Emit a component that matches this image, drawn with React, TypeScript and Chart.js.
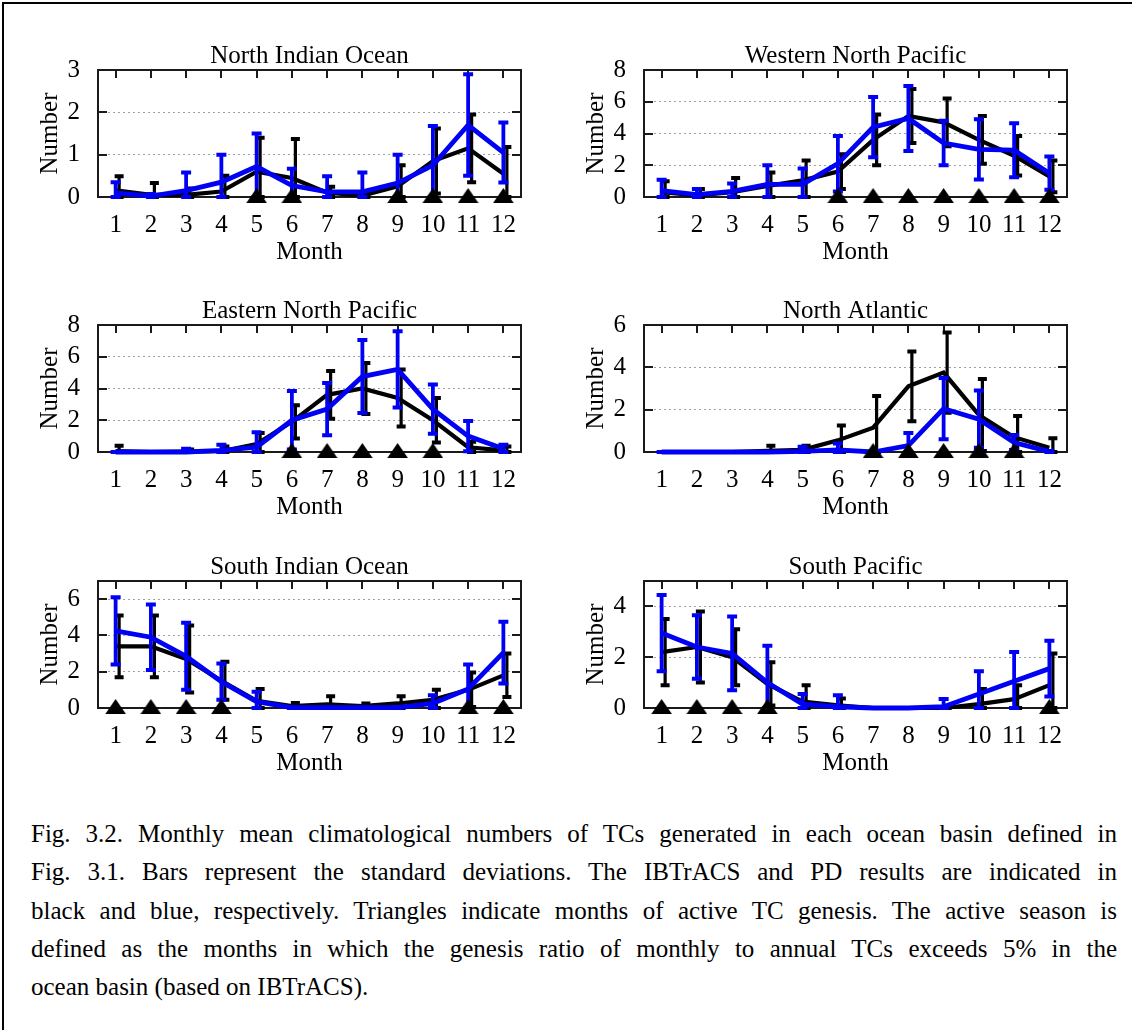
import React, { useEffect, useRef } from 'react';
import { Chart, registerables } from 'chart.js';

Chart.register(...registerables);

const SERIF = '"Liberation Serif", "Times New Roman", serif';
const BLUE = '#0000f5';
const BLACK = '#000000';

// Months (x categories)
const months = [1, 2, 3, 4, 5, 6, 7, 8, 9, 10, 11, 12];

// North Indian Ocean
const nioIbtracs = [0.16, 0.05, 0.05, 0.13, 0.6, 0.45, 0.1, 0.03, 0.25, 0.85, 1.15, 0.55];
const nioIbtracsSd = [0.33, 0.28, 0.15, 0.37, 0.8, 0.92, 0.14, 0.07, 0.5, 0.77, 0.8, 0.63];
const nioPd = [0.1, 0.02, 0.15, 0.35, 0.72, 0.27, 0.12, 0.12, 0.33, 0.75, 1.7, 1.05];
const nioPdSd = [0.25, 0.05, 0.43, 0.65, 0.78, 0.4, 0.37, 0.46, 0.67, 0.93, 1.2, 0.71];
const nioActive = [5, 6, 9, 10, 11, 12];
const nioYTicks = [0, 1, 2, 3];

// Western North Pacific
const wnpIbtracs = [0.3, 0.1, 0.3, 0.7, 1.05, 1.6, 3.6, 5.1, 4.7, 3.6, 2.6, 1.3];
const wnpIbtracsSd = [0.7, 0.4, 0.9, 0.85, 1.25, 1.1, 1.6, 1.7, 1.5, 1.5, 1.25, 1.0];
const wnpPd = [0.4, 0.15, 0.35, 0.8, 0.8, 2.1, 4.4, 4.95, 3.4, 3.0, 2.95, 1.5];
const wnpPdSd = [0.68, 0.35, 0.5, 1.2, 1.0, 1.75, 1.9, 2.05, 1.4, 1.9, 1.7, 1.05];
const wnpActive = [6, 7, 8, 9, 10, 11, 12];
const wnpYTicks = [0, 2, 4, 6, 8];

// Eastern North Pacific
const enpIbtracs = [0.05, 0, 0.02, 0.05, 0.5, 1.9, 3.6, 4.0, 3.4, 2.0, 0.3, 0.1];
const enpIbtracsSd = [0.35, 0, 0.13, 0.3, 0.7, 1.05, 1.5, 1.6, 1.8, 1.4, 0.35, 0.25];
const enpPd = [0, 0, 0, 0.1, 0.3, 2.0, 2.7, 4.75, 5.2, 2.7, 1.0, 0.2];
const enpPdSd = [0, 0, 0.2, 0.35, 0.95, 1.85, 1.65, 2.3, 2.4, 1.55, 0.95, 0.25];
const enpActive = [6, 7, 8, 9, 10];
const enpYTicks = [0, 2, 4, 6, 8];

// North Atlantic
const naIbtracs = [0, 0, 0, 0.05, 0.1, 0.55, 1.15, 3.1, 3.75, 1.75, 0.7, 0.2];
const naIbtracsSd = [0, 0, 0, 0.25, 0.2, 0.7, 1.5, 1.65, 1.9, 1.7, 1.0, 0.45];
const naPd = [0, 0, 0, 0, 0.03, 0.1, 0, 0.3, 2.05, 1.55, 0.45, 0.02];
const naPdSd = [0, 0, 0, 0, 0.22, 0.3, 0, 0.6, 1.45, 1.35, 0.35, 0.03];
const naActive = [7, 8, 9, 10, 11];
const naYTicks = [0, 2, 4, 6];

// South Indian Ocean
const sioIbtracs = [3.4, 3.4, 2.7, 1.5, 0.4, 0.1, 0.2, 0.1, 0.25, 0.45, 1.0, 1.8];
const sioIbtracsSd = [1.7, 1.7, 1.85, 1.05, 0.65, 0.17, 0.45, 0.15, 0.4, 0.55, 0.95, 1.2];
const sioPd = [4.25, 3.9, 2.85, 1.45, 0.35, 0.02, 0.02, 0.02, 0.02, 0.25, 1.05, 3.05];
const sioPdSd = [1.85, 1.8, 1.85, 1.0, 0.55, 0.02, 0.02, 0.02, 0.02, 0.45, 1.35, 1.7];
const sioActive = [1, 2, 3, 4, 11, 12];
const sioYTicks = [0, 2, 4, 6];

// South Pacific
const spIbtracs = [2.2, 2.4, 2.0, 0.95, 0.25, 0.1, 0, 0, 0, 0.15, 0.35, 0.9];
const spIbtracsSd = [1.3, 1.4, 1.1, 0.85, 0.65, 0.27, 0, 0, 0, 0.6, 0.55, 1.25];
const spPd = [2.95, 2.4, 2.15, 1.0, 0.15, 0.05, 0, 0, 0.05, 0.55, 1.05, 1.55];
const spPdSd = [1.5, 1.25, 1.45, 1.45, 0.4, 0.45, 0, 0, 0.3, 0.9, 1.15, 1.1];
const spActive = [1, 2, 3, 4, 12];
const spYTicks = [0, 2, 4];

const captionLines = [
  'Fig. 3.2. Monthly mean climatological numbers of TCs generated in each ocean basin defined in',
  'Fig. 3.1. Bars represent the standard deviations. The IBTrACS and PD results are indicated in',
  'black and blue, respectively. Triangles indicate months of active TC genesis. The active season is',
  'defined as the months in which the genesis ratio of monthly to annual TCs exceeds 5% in the',
  'ocean basin (based on IBTrACS).',
];

type PanelCfg = {
  title: string;
  ib: number[];
  ibSd: number[];
  pd: number[];
  pdSd: number[];
  active: number[];
  yMax: number;
  yTicks: number[];
  plotLeft: number;
  plotTop: number;
};

const PLOT_W = 423;
const PLOT_H = 127;
const LM = 70; // space left of plot inside canvas
const TM = 32; // space above plot inside canvas
const RM = 14;
const BM = 72;

const panels: PanelCfg[] = [
  { title: 'North Indian Ocean', ib: nioIbtracs, ibSd: nioIbtracsSd, pd: nioPd, pdSd: nioPdSd, active: nioActive, yMax: 3, yTicks: nioYTicks, plotLeft: 98, plotTop: 70 },
  { title: 'Western North Pacific', ib: wnpIbtracs, ibSd: wnpIbtracsSd, pd: wnpPd, pdSd: wnpPdSd, active: wnpActive, yMax: 8, yTicks: wnpYTicks, plotLeft: 644, plotTop: 70 },
  { title: 'Eastern North Pacific', ib: enpIbtracs, ibSd: enpIbtracsSd, pd: enpPd, pdSd: enpPdSd, active: enpActive, yMax: 8, yTicks: enpYTicks, plotLeft: 98, plotTop: 325 },
  { title: 'North Atlantic', ib: naIbtracs, ibSd: naIbtracsSd, pd: naPd, pdSd: naPdSd, active: naActive, yMax: 6, yTicks: naYTicks, plotLeft: 644, plotTop: 325 },
  { title: 'South Indian Ocean', ib: sioIbtracs, ibSd: sioIbtracsSd, pd: sioPd, pdSd: sioPdSd, active: sioActive, yMax: 7, yTicks: sioYTicks, plotLeft: 98, plotTop: 581 },
  { title: 'South Pacific', ib: spIbtracs, ibSd: spIbtracsSd, pd: spPd, pdSd: spPdSd, active: spActive, yMax: 5, yTicks: spYTicks, plotLeft: 644, plotTop: 581 },
];

// flat triangle marker (gnuplot-like); canvas centre sits on the zero line
function makeTriangle(): HTMLCanvasElement {
  const c = document.createElement('canvas');
  c.width = 21;
  c.height = 20;
  const g = c.getContext('2d')!;
  g.fillStyle = '#000';
  g.beginPath();
  g.moveTo(10.5, 1);
  g.lineTo(20.8, 16);
  g.lineTo(0.2, 16);
  g.closePath();
  g.fill();
  return c;
}

const framePlugin = {
  id: 'gnuFrame',
  beforeDatasetsDraw(chart: any) {
    const { ctx, chartArea: a, scales } = chart;
    const x = scales.x;
    const y = scales.y;
    ctx.save();
    ctx.strokeStyle = '#1a1a1a';
    ctx.lineWidth = 2;
    ctx.strokeRect(a.left, a.top, a.right - a.left, a.bottom - a.top);
    ctx.beginPath();
    months.forEach((m) => {
      const px = Math.round(x.getPixelForValue(m));
      ctx.moveTo(px, a.top);
      ctx.lineTo(px, a.top + 8);
    });
    y.ticks.forEach((t: any) => {
      if (t.value <= y.min || t.value >= y.max) return;
      const py = Math.round(y.getPixelForValue(t.value));
      ctx.moveTo(a.left, py);
      ctx.lineTo(a.left + 9, py);
      ctx.moveTo(a.right, py);
      ctx.lineTo(a.right - 9, py);
    });
    ctx.stroke();
    ctx.restore();
  },
};

const errorBarPlugin = {
  id: 'errBars',
  afterDatasetDraw(chart: any, args: any) {
    const ds: any = chart.data.datasets[args.index];
    if (!ds.sd) return;
    const { ctx, scales } = chart;
    const x = scales.x;
    const y = scales.y;
    ctx.save();
    ctx.strokeStyle = ds.borderColor;
    ctx.lineCap = 'butt';
    ds.data.forEach((p: any, i: number) => {
      const sd = ds.sd[i];
      const px = x.getPixelForValue(p.x) + ds.barOffset;
      const lo = Math.max(y.min, p.y - sd);
      const hi = Math.min(y.max, p.y + sd);
      const yl = y.getPixelForValue(lo);
      const yh = y.getPixelForValue(hi);
      const hw = ds.capWidth / 2;
      ctx.lineWidth = ds.barWidth;
      ctx.beginPath();
      ctx.moveTo(px, yl);
      ctx.lineTo(px, yh);
      ctx.stroke();
      ctx.lineWidth = ds.capThick;
      ctx.beginPath();
      ctx.moveTo(px - hw, yh);
      ctx.lineTo(px + hw, yh);
      ctx.moveTo(px - hw, yl);
      ctx.lineTo(px + hw, yl);
      ctx.stroke();
    });
    ctx.restore();
  },
};

function Panel({ cfg }: { cfg: PanelCfg }) {
  const ref = useRef<HTMLCanvasElement>(null);
  useEffect(() => {
    const canvas = ref.current;
    if (!canvas) return;
    const tri = makeTriangle();
    const chart = new Chart(canvas, {
      type: 'line',
      data: {
        datasets: [
          {
            label: 'active',
            type: 'scatter',
            data: cfg.active.map((m) => ({ x: m, y: 0 })),
            pointStyle: tri,
            pointRadius: 10,
            backgroundColor: BLACK,
            borderColor: BLACK,
            borderWidth: 0,
            showLine: false,
            order: 0,
            clip: false,
          } as any,
          {
            label: 'PD',
            data: months.map((m, i) => ({ x: m, y: cfg.pd[i] })),
            borderColor: BLUE,
            backgroundColor: BLUE,
            borderWidth: 4.8,
            pointRadius: 0,
            tension: 0,
            order: 1,
            clip: false,
            sd: cfg.pdSd,
            barOffset: 0,
            barWidth: 3.8,
            capWidth: 10,
            capThick: 4,
          } as any,
          {
            label: 'IBTrACS',
            data: months.map((m, i) => ({ x: m, y: cfg.ib[i] })),
            borderColor: BLACK,
            backgroundColor: BLACK,
            borderWidth: 4.2,
            pointRadius: 0,
            tension: 0,
            order: 2,
            clip: false,
            sd: cfg.ibSd,
            barOffset: 3.5,
            barWidth: 3.2,
            capWidth: 9,
            capThick: 4,
          } as any,
        ],
      },
      options: {
        animation: false,
        responsive: false,
        maintainAspectRatio: false,
        events: [],
        layout: { padding: { left: 0, top: 0, right: RM, bottom: 0 } },
        plugins: {
          legend: { display: false },
          tooltip: { enabled: false },
          title: {
            display: true,
            text: cfg.title,
            color: '#000',
            fullSize: false,
            font: { family: SERIF, size: 25, weight: 'normal', lineHeight: 1 },
            padding: { top: 6, bottom: 1 },
          },
        },
        scales: {
          x: {
            type: 'linear',
            min: 0.5,
            max: 12.5,
            afterBuildTicks: (s: any) => {
              s.ticks = months.map((v) => ({ value: v }));
            },
            afterFit: (s: any) => {
              s.height = BM;
            },
            grid: { display: false },
            border: { display: false },
            ticks: {
              color: '#000',
              font: { family: SERIF, size: 25, lineHeight: 1 },
              padding: 8,
              autoSkip: false,
              maxRotation: 0,
              callback: (v: any) => String(v),
            },
            title: {
              display: true,
              text: 'Month',
              color: '#000',
              font: { family: SERIF, size: 25, lineHeight: 1 },
              padding: { top: 0, bottom: 4.5 },
            },
          },
          y: {
            type: 'linear',
            min: 0,
            max: cfg.yMax,
            afterBuildTicks: (s: any) => {
              s.ticks = cfg.yTicks.map((v) => ({ value: v }));
            },
            afterFit: (s: any) => {
              s.width = LM;
            },
            grid: {
              drawTicks: false,
              lineWidth: 1,
              color: (c: any) =>
                c.tick && c.tick.value > 0 && c.tick.value < cfg.yMax ? '#a0a0a0' : 'rgba(0,0,0,0)',
            },
            border: { display: false, dash: [2, 3] },
            ticks: {
              color: '#000',
              font: { family: SERIF, size: 25, lineHeight: 1 },
              padding: 18,
              callback: (v: any) => String(v),
            },
            title: {
              display: true,
              text: 'Number',
              color: '#000',
              font: { family: SERIF, size: 25, lineHeight: 1 },
              padding: { top: 10, bottom: 0 },
            },
          },
        },
      } as any,
      plugins: [framePlugin, errorBarPlugin],
    });
    return () => chart.destroy();
  }, [cfg]);
  const w = LM + PLOT_W + RM;
  const h = TM + PLOT_H + BM;
  return (
    <canvas
      ref={ref}
      width={w}
      height={h}
      style={{ position: 'absolute', left: cfg.plotLeft - LM, top: cfg.plotTop - TM, width: w, height: h }}
    />
  );
}

export default function App() {
  return (
    <div
      style={{
        position: 'fixed',
        left: 0,
        top: 0,
        width: 1132,
        height: 1030,
        background: '#fff',
        overflow: 'hidden',
      }}
    >
      <div
        style={{
          position: 'absolute',
          left: 2,
          top: 2,
          width: 1200,
          height: 1100,
          borderTop: '2px solid #000',
          borderLeft: '2px solid #000',
        }}
      />
      {panels.map((p) => (
        <Panel key={p.title} cfg={p} />
      ))}
      <div
        style={{
          position: 'absolute',
          left: 31,
          top: 815,
          width: 1086,
          fontFamily: SERIF,
          fontSize: 25,
          lineHeight: '38.3px',
          color: '#000',
        }}
      >
        {captionLines.map((t, i) => (
          <div
            key={i}
            style={{
              textAlign: i < captionLines.length - 1 ? 'justify' : 'left',
              textAlignLast: i < captionLines.length - 1 ? 'justify' : 'left',
            } as any}
          >
            {t}
          </div>
        ))}
      </div>
    </div>
  );
}
